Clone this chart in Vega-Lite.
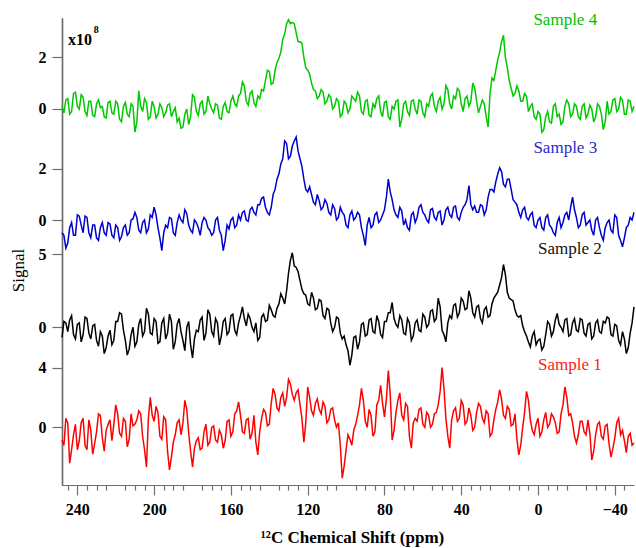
{
"$schema": "https://vega.github.io/schema/vega-lite/v6.json",
"width": 572, "height": 467,
"autosize": "none",
"padding": {"left": 62, "top": 18, "right": 2, "bottom": 63},
"background": "white",
"config": {"view": {"stroke": null},
  "axis": {"grid": false, "labelFont": "Liberation Serif", "labelFontWeight": "bold", "labelFontSize": 16, "labelColor": "#000", "domainColor": "#6e6e6e", "domainWidth": 1.2, "tickColor": "#6e6e6e", "tickWidth": 1.2, "titleFont": "Liberation Serif", "titleColor": "#000"}},
"datasets": {
"g": [{"x":248,"y":0.1},{"x":246,"y":0.35},{"x":244,"y":-0.2},{"x":242,"y":0.6},{"x":240,"y":0.1},{"x":238,"y":0.55},{"x":236,"y":-0.1},{"x":234,"y":0.3},{"x":232,"y":-0.25},{"x":230,"y":0.2},{"x":228,"y":0.05},{"x":226,"y":-0.3},{"x":224,"y":0.25},{"x":222,"y":-0.15},{"x":220,"y":0.3},{"x":218,"y":-0.4},{"x":216,"y":0.1},{"x":214,"y":-0.2},{"x":212,"y":0.2},{"x":210,"y":-0.9},{"x":208,"y":0.7},{"x":206,"y":-0.1},{"x":204,"y":0.25},{"x":202,"y":-0.3},{"x":200,"y":0.1},{"x":198,"y":-0.2},{"x":196,"y":0.05},{"x":194,"y":-0.15},{"x":192,"y":0.2},{"x":190,"y":-0.1},{"x":188,"y":-0.5},{"x":186,"y":-0.75},{"x":184,"y":-0.2},{"x":182,"y":-0.6},{"x":180,"y":0.55},{"x":178,"y":-0.1},{"x":176,"y":0.2},{"x":174,"y":-0.2},{"x":172,"y":0.5},{"x":170,"y":0.0},{"x":168,"y":0.2},{"x":166,"y":-0.35},{"x":164,"y":0.1},{"x":162,"y":-0.1},{"x":160,"y":0.3},{"x":158,"y":0.2},{"x":156,"y":0.5},{"x":154,"y":1.05},{"x":152,"y":0.3},{"x":150,"y":0.6},{"x":148,"y":0.25},{"x":146,"y":0.5},{"x":144,"y":0.75},{"x":142,"y":1.1},{"x":140,"y":1.45},{"x":138,"y":1.0},{"x":136,"y":1.8},{"x":134,"y":2.2},{"x":132,"y":2.9},{"x":130,"y":3.45},{"x":128,"y":3.35},{"x":126,"y":2.95},{"x":124,"y":2.6},{"x":122,"y":2.0},{"x":120,"y":1.5},{"x":118,"y":1.0},{"x":116,"y":0.7},{"x":114,"y":0.5},{"x":112,"y":0.65},{"x":110,"y":0.3},{"x":108,"y":0.45},{"x":106,"y":0.1},{"x":104,"y":0.3},{"x":102,"y":-0.2},{"x":100,"y":0.2},{"x":98,"y":0.0},{"x":96,"y":0.4},{"x":94,"y":0.65},{"x":92,"y":-0.1},{"x":90,"y":0.3},{"x":88,"y":-0.25},{"x":86,"y":0.2},{"x":84,"y":0.4},{"x":82,"y":-0.1},{"x":80,"y":0.25},{"x":78,"y":-0.3},{"x":76,"y":0.1},{"x":74,"y":0.3},{"x":72,"y":-0.7},{"x":70,"y":0.2},{"x":68,"y":-0.1},{"x":66,"y":0.3},{"x":64,"y":0.0},{"x":62,"y":0.35},{"x":60,"y":-0.15},{"x":58,"y":0.2},{"x":56,"y":0.5},{"x":54,"y":0.1},{"x":52,"y":0.3},{"x":50,"y":0.0},{"x":48,"y":0.9},{"x":46,"y":0.2},{"x":44,"y":0.5},{"x":42,"y":0.8},{"x":40,"y":0.2},{"x":38,"y":0.4},{"x":36,"y":0.1},{"x":34,"y":1.0},{"x":32,"y":0.3},{"x":30,"y":0.1},{"x":28,"y":0.2},{"x":26,"y":-0.7},{"x":24,"y":1.2},{"x":22,"y":1.5},{"x":20,"y":2.2},{"x":18,"y":2.85},{"x":16,"y":1.6},{"x":14,"y":0.8},{"x":12,"y":0.6},{"x":10,"y":0.7},{"x":8,"y":0.3},{"x":6,"y":0.5},{"x":4,"y":0.1},{"x":2,"y":-0.3},{"x":0,"y":-0.1},{"x":-2,"y":-0.9},{"x":-4,"y":-0.3},{"x":-6,"y":-0.5},{"x":-8,"y":0.1},{"x":-10,"y":-0.3},{"x":-12,"y":-0.6},{"x":-14,"y":0.1},{"x":-16,"y":0.2},{"x":-18,"y":-0.2},{"x":-20,"y":0.1},{"x":-22,"y":-0.4},{"x":-24,"y":0.2},{"x":-26,"y":-0.2},{"x":-28,"y":0.0},{"x":-30,"y":-0.3},{"x":-32,"y":0.1},{"x":-34,"y":-0.8},{"x":-36,"y":0.3},{"x":-38,"y":-0.1},{"x":-40,"y":0.4},{"x":-42,"y":0.0},{"x":-44,"y":0.35},{"x":-46,"y":-0.2},{"x":-48,"y":0.3},{"x":-50,"y":0.1},
{"x":247,"y":-0.15},{"x":245,"y":0.4},{"x":243,"y":-0.1},{"x":241,"y":0.65},{"x":239,"y":0.0},{"x":237,"y":0.45},{"x":235,"y":-0.25},{"x":233,"y":0.3},{"x":231,"y":-0.3},{"x":229,"y":0.35},{"x":227,"y":0.1},{"x":225,"y":-0.35},{"x":223,"y":0.3},{"x":221,"y":-0.2},{"x":219,"y":0.2},{"x":217,"y":-0.5},{"x":215,"y":0.25},{"x":213,"y":-0.3},{"x":211,"y":0.1},{"x":209,"y":-0.5},{"x":207,"y":0.1},{"x":205,"y":0.4},{"x":203,"y":-0.4},{"x":201,"y":0.3},{"x":199,"y":-0.35},{"x":197,"y":0.2},{"x":195,"y":-0.3},{"x":193,"y":0.15},{"x":191,"y":-0.3},{"x":189,"y":0.05},{"x":187,"y":-0.35},{"x":185,"y":-0.7},{"x":183,"y":0.0},{"x":181,"y":-0.3},{"x":179,"y":0.45},{"x":177,"y":-0.25},{"x":175,"y":0.3},{"x":173,"y":-0.1},{"x":171,"y":0.2},{"x":169,"y":-0.15},{"x":167,"y":0.15},{"x":165,"y":-0.4},{"x":163,"y":0.25},{"x":161,"y":-0.15},{"x":159,"y":0.5},{"x":157,"y":0.1},{"x":155,"y":0.6},{"x":153,"y":0.9},{"x":151,"y":0.15},{"x":149,"y":0.7},{"x":147,"y":0.1},{"x":145,"y":0.4},{"x":143,"y":0.7},{"x":141,"y":1.5},{"x":139,"y":0.95},{"x":137,"y":1.5},{"x":135,"y":1.95},{"x":133,"y":2.7},{"x":131,"y":3.3},{"x":129,"y":3.3},{"x":127,"y":3.3},{"x":125,"y":2.6},{"x":123,"y":2.55},{"x":121,"y":1.6},{"x":119,"y":1.35},{"x":117,"y":0.75},{"x":115,"y":0.4},{"x":113,"y":0.75},{"x":111,"y":0.2},{"x":109,"y":0.55},{"x":107,"y":0.0},{"x":105,"y":0.4},{"x":103,"y":-0.3},{"x":101,"y":0.3},{"x":99,"y":-0.15},{"x":97,"y":0.5},{"x":95,"y":0.3},{"x":93,"y":0.5},{"x":91,"y":-0.2},{"x":89,"y":0.35},{"x":87,"y":-0.3},{"x":85,"y":0.05},{"x":83,"y":0.5},{"x":81,"y":-0.3},{"x":79,"y":0.3},{"x":77,"y":-0.4},{"x":75,"y":0.0},{"x":73,"y":0.35},{"x":71,"y":-0.4},{"x":69,"y":0.3},{"x":67,"y":-0.25},{"x":65,"y":0.35},{"x":63,"y":-0.2},{"x":61,"y":0.3},{"x":59,"y":-0.3},{"x":57,"y":0.1},{"x":55,"y":0.6},{"x":53,"y":-0.1},{"x":51,"y":0.45},{"x":49,"y":0.2},{"x":47,"y":0.75},{"x":45,"y":0.0},{"x":43,"y":0.4},{"x":41,"y":0.7},{"x":39,"y":-0.1},{"x":37,"y":0.5},{"x":35,"y":0.3},{"x":33,"y":0.8},{"x":31,"y":-0.15},{"x":29,"y":0.35},{"x":27,"y":-0.3},{"x":25,"y":0.6},{"x":23,"y":1.1},{"x":21,"y":1.9},{"x":19,"y":2.6},{"x":17,"y":2.0},{"x":15,"y":1.1},{"x":13,"y":0.5},{"x":11,"y":0.9},{"x":9,"y":0.3},{"x":7,"y":0.6},{"x":5,"y":-0.1},{"x":3,"y":0.2},{"x":1,"y":-0.4},{"x":-1,"y":-0.2},{"x":-3,"y":-0.8},{"x":-5,"y":-0.1},{"x":-7,"y":-0.55},{"x":-9,"y":0.2},{"x":-11,"y":-0.2},{"x":-13,"y":-0.5},{"x":-15,"y":0.35},{"x":-17,"y":-0.3},{"x":-19,"y":0.2},{"x":-21,"y":-0.3},{"x":-23,"y":0.1},{"x":-25,"y":-0.35},{"x":-27,"y":0.15},{"x":-29,"y":-0.5},{"x":-31,"y":0.2},{"x":-33,"y":-0.2},{"x":-35,"y":-0.5},{"x":-37,"y":-0.2},{"x":-39,"y":0.35},{"x":-41,"y":-0.1},{"x":-43,"y":0.45},{"x":-45,"y":-0.2},{"x":-47,"y":0.35},{"x":-49,"y":-0.1}],
"b": [{"x":248,"y":-0.5},{"x":246,"y":-1.1},{"x":244,"y":-0.3},{"x":242,"y":-0.6},{"x":240,"y":0.2},{"x":238,"y":-0.2},{"x":236,"y":0.15},{"x":234,"y":-0.5},{"x":232,"y":-0.2},{"x":230,"y":-0.7},{"x":228,"y":-0.3},{"x":226,"y":-0.5},{"x":224,"y":-0.1},{"x":222,"y":-0.6},{"x":220,"y":-0.2},{"x":218,"y":-0.8},{"x":216,"y":-0.3},{"x":214,"y":-0.6},{"x":212,"y":0.0},{"x":210,"y":0.3},{"x":208,"y":-0.4},{"x":206,"y":-0.1},{"x":204,"y":-0.5},{"x":202,"y":0.2},{"x":200,"y":0.5},{"x":198,"y":-0.3},{"x":196,"y":-1.2},{"x":194,"y":-0.2},{"x":192,"y":0.1},{"x":190,"y":-0.5},{"x":188,"y":-0.1},{"x":186,"y":0.0},{"x":184,"y":0.4},{"x":182,"y":-0.2},{"x":180,"y":-0.5},{"x":178,"y":-0.1},{"x":176,"y":-0.6},{"x":174,"y":0.1},{"x":172,"y":-0.3},{"x":170,"y":-0.6},{"x":168,"y":0.0},{"x":166,"y":-0.4},{"x":164,"y":-1.2},{"x":162,"y":-0.2},{"x":160,"y":0.0},{"x":158,"y":-0.3},{"x":156,"y":0.2},{"x":154,"y":0.3},{"x":152,"y":0.0},{"x":150,"y":0.4},{"x":148,"y":0.3},{"x":146,"y":0.6},{"x":144,"y":0.85},{"x":142,"y":0.5},{"x":140,"y":0.2},{"x":138,"y":1.0},{"x":136,"y":1.6},{"x":134,"y":2.2},{"x":132,"y":3.1},{"x":130,"y":2.4},{"x":128,"y":2.9},{"x":126,"y":3.25},{"x":124,"y":2.4},{"x":122,"y":1.6},{"x":120,"y":1.1},{"x":118,"y":1.0},{"x":116,"y":0.6},{"x":114,"y":0.75},{"x":112,"y":0.5},{"x":110,"y":0.65},{"x":108,"y":0.2},{"x":106,"y":0.45},{"x":104,"y":0.1},{"x":102,"y":0.3},{"x":100,"y":-0.2},{"x":98,"y":0.2},{"x":96,"y":0.0},{"x":94,"y":0.3},{"x":92,"y":-0.3},{"x":90,"y":-1.0},{"x":88,"y":0.1},{"x":86,"y":-0.2},{"x":84,"y":0.3},{"x":82,"y":0.0},{"x":80,"y":0.4},{"x":78,"y":1.6},{"x":76,"y":0.8},{"x":74,"y":0.2},{"x":72,"y":0.5},{"x":70,"y":-0.2},{"x":68,"y":-0.3},{"x":66,"y":0.2},{"x":64,"y":-0.1},{"x":62,"y":0.5},{"x":60,"y":0.3},{"x":58,"y":0.0},{"x":56,"y":0.4},{"x":54,"y":0.1},{"x":52,"y":0.3},{"x":50,"y":-0.2},{"x":48,"y":0.4},{"x":46,"y":0.2},{"x":44,"y":0.5},{"x":42,"y":0.1},{"x":40,"y":0.3},{"x":38,"y":0.6},{"x":36,"y":1.35},{"x":34,"y":0.4},{"x":32,"y":0.3},{"x":30,"y":0.6},{"x":28,"y":0.2},{"x":26,"y":0.9},{"x":24,"y":1.2},{"x":22,"y":1.5},{"x":20,"y":2.05},{"x":18,"y":1.4},{"x":16,"y":1.6},{"x":14,"y":1.2},{"x":12,"y":0.7},{"x":10,"y":0.3},{"x":8,"y":0.4},{"x":6,"y":0.1},{"x":4,"y":0.2},{"x":2,"y":-0.2},{"x":0,"y":0.0},{"x":-2,"y":-0.3},{"x":-4,"y":0.1},{"x":-6,"y":-0.2},{"x":-8,"y":-0.5},{"x":-10,"y":-0.1},{"x":-12,"y":-0.3},{"x":-14,"y":0.2},{"x":-16,"y":0.0},{"x":-18,"y":0.9},{"x":-20,"y":0.1},{"x":-22,"y":-0.2},{"x":-24,"y":0.3},{"x":-26,"y":-0.1},{"x":-28,"y":-0.4},{"x":-30,"y":0.0},{"x":-32,"y":-0.3},{"x":-34,"y":-0.8},{"x":-36,"y":-0.1},{"x":-38,"y":-0.4},{"x":-40,"y":0.2},{"x":-42,"y":-0.6},{"x":-44,"y":-1.05},{"x":-46,"y":-0.3},{"x":-48,"y":0.1},{"x":-50,"y":0.3},
{"x":247,"y":-0.6},{"x":245,"y":-0.9},{"x":243,"y":-0.1},{"x":241,"y":-0.6},{"x":239,"y":0.15},{"x":237,"y":-0.5},{"x":235,"y":0.1},{"x":233,"y":-0.7},{"x":231,"y":-0.2},{"x":229,"y":-0.8},{"x":227,"y":-0.1},{"x":225,"y":-0.6},{"x":223,"y":-0.15},{"x":221,"y":-0.7},{"x":219,"y":-0.3},{"x":217,"y":-0.65},{"x":215,"y":-0.2},{"x":213,"y":-0.5},{"x":211,"y":0.05},{"x":209,"y":0.1},{"x":207,"y":-0.5},{"x":205,"y":0.0},{"x":203,"y":-0.35},{"x":201,"y":0.1},{"x":199,"y":0.2},{"x":197,"y":-0.7},{"x":195,"y":-0.5},{"x":193,"y":-0.3},{"x":191,"y":0.05},{"x":189,"y":-0.6},{"x":187,"y":0.2},{"x":185,"y":-0.1},{"x":183,"y":0.25},{"x":181,"y":-0.4},{"x":179,"y":0.0},{"x":177,"y":-0.3},{"x":175,"y":-0.1},{"x":173,"y":0.0},{"x":171,"y":-0.4},{"x":169,"y":-0.5},{"x":167,"y":0.1},{"x":165,"y":-0.6},{"x":163,"y":-0.8},{"x":161,"y":-0.35},{"x":159,"y":0.1},{"x":157,"y":-0.2},{"x":155,"y":0.0},{"x":153,"y":0.35},{"x":151,"y":-0.05},{"x":149,"y":0.5},{"x":147,"y":0.2},{"x":145,"y":0.6},{"x":143,"y":0.9},{"x":141,"y":0.3},{"x":139,"y":0.5},{"x":137,"y":1.2},{"x":135,"y":1.8},{"x":133,"y":2.4},{"x":131,"y":3.0},{"x":129,"y":2.5},{"x":127,"y":3.1},{"x":125,"y":2.7},{"x":123,"y":2.1},{"x":121,"y":1.2},{"x":119,"y":1.3},{"x":117,"y":0.7},{"x":115,"y":1.0},{"x":113,"y":0.4},{"x":111,"y":0.8},{"x":109,"y":0.3},{"x":107,"y":0.6},{"x":105,"y":0.0},{"x":103,"y":0.5},{"x":101,"y":0.2},{"x":99,"y":-0.3},{"x":97,"y":0.35},{"x":95,"y":0.1},{"x":93,"y":0.2},{"x":91,"y":-0.6},{"x":89,"y":-0.2},{"x":87,"y":-0.3},{"x":85,"y":0.2},{"x":83,"y":-0.1},{"x":81,"y":0.2},{"x":79,"y":0.9},{"x":77,"y":1.1},{"x":75,"y":0.4},{"x":73,"y":0.1},{"x":71,"y":0.35},{"x":69,"y":0.0},{"x":67,"y":-0.4},{"x":65,"y":0.3},{"x":63,"y":0.1},{"x":61,"y":0.6},{"x":59,"y":0.2},{"x":57,"y":-0.1},{"x":55,"y":0.45},{"x":53,"y":0.0},{"x":51,"y":0.35},{"x":49,"y":0.0},{"x":47,"y":0.5},{"x":45,"y":0.1},{"x":43,"y":0.55},{"x":41,"y":0.0},{"x":39,"y":0.5},{"x":37,"y":0.8},{"x":35,"y":0.6},{"x":33,"y":0.55},{"x":31,"y":0.3},{"x":29,"y":0.55},{"x":27,"y":0.4},{"x":25,"y":1.2},{"x":23,"y":1.1},{"x":21,"y":1.8},{"x":19,"y":1.9},{"x":17,"y":1.3},{"x":15,"y":1.6},{"x":13,"y":0.8},{"x":11,"y":0.6},{"x":9,"y":0.1},{"x":7,"y":0.5},{"x":5,"y":0.0},{"x":3,"y":0.3},{"x":1,"y":-0.3},{"x":-1,"y":0.1},{"x":-3,"y":-0.4},{"x":-5,"y":0.2},{"x":-7,"y":-0.3},{"x":-9,"y":-0.6},{"x":-11,"y":0.1},{"x":-13,"y":-0.1},{"x":-15,"y":0.3},{"x":-17,"y":0.5},{"x":-19,"y":0.4},{"x":-21,"y":-0.3},{"x":-23,"y":0.2},{"x":-25,"y":-0.2},{"x":-27,"y":0.0},{"x":-29,"y":-0.6},{"x":-31,"y":0.1},{"x":-33,"y":-0.6},{"x":-35,"y":-0.3},{"x":-37,"y":0.0},{"x":-39,"y":-0.5},{"x":-41,"y":0.1},{"x":-43,"y":-0.8},{"x":-45,"y":-0.7},{"x":-47,"y":-0.2},{"x":-49,"y":0.0}],
"k": [{"x":248,"y":-0.7},{"x":246,"y":0.3},{"x":244,"y":0.5},{"x":242,"y":-0.5},{"x":240,"y":0.2},{"x":238,"y":-1.0},{"x":236,"y":0.7},{"x":234,"y":-0.4},{"x":232,"y":0.1},{"x":230,"y":-0.9},{"x":228,"y":-0.3},{"x":226,"y":-1.8},{"x":224,"y":-0.6},{"x":222,"y":-1.2},{"x":220,"y":0.4},{"x":218,"y":1.0},{"x":216,"y":-0.2},{"x":214,"y":-1.9},{"x":212,"y":-0.5},{"x":210,"y":-1.3},{"x":208,"y":0.2},{"x":206,"y":-0.6},{"x":204,"y":1.3},{"x":202,"y":-0.4},{"x":200,"y":0.6},{"x":198,"y":-1.1},{"x":196,"y":0.3},{"x":194,"y":-0.8},{"x":192,"y":0.9},{"x":190,"y":-1.5},{"x":188,"y":0.2},{"x":186,"y":-0.3},{"x":184,"y":-1.6},{"x":182,"y":0.4},{"x":180,"y":-2.1},{"x":178,"y":-0.2},{"x":176,"y":0.5},{"x":174,"y":-0.9},{"x":172,"y":1.2},{"x":170,"y":-0.3},{"x":168,"y":0.6},{"x":166,"y":-1.2},{"x":164,"y":0.4},{"x":162,"y":-0.5},{"x":160,"y":0.8},{"x":158,"y":-0.2},{"x":156,"y":0.3},{"x":154,"y":1.4},{"x":152,"y":0.1},{"x":150,"y":0.6},{"x":148,"y":-0.3},{"x":146,"y":-0.9},{"x":144,"y":0.7},{"x":142,"y":0.4},{"x":140,"y":1.5},{"x":138,"y":0.8},{"x":136,"y":1.3},{"x":134,"y":2.3},{"x":132,"y":1.6},{"x":130,"y":3.7},{"x":128,"y":5.1},{"x":126,"y":4.1},{"x":124,"y":3.2},{"x":122,"y":2.3},{"x":120,"y":1.6},{"x":118,"y":2.4},{"x":116,"y":1.2},{"x":114,"y":1.9},{"x":112,"y":0.8},{"x":110,"y":1.3},{"x":108,"y":0.3},{"x":106,"y":0.0},{"x":104,"y":0.6},{"x":102,"y":-0.8},{"x":100,"y":-1.2},{"x":98,"y":-2.6},{"x":96,"y":-0.7},{"x":94,"y":-1.5},{"x":92,"y":0.2},{"x":90,"y":-0.6},{"x":88,"y":0.5},{"x":86,"y":-0.3},{"x":84,"y":0.8},{"x":82,"y":-0.5},{"x":80,"y":0.4},{"x":78,"y":1.0},{"x":76,"y":1.7},{"x":74,"y":0.2},{"x":72,"y":0.8},{"x":70,"y":-0.4},{"x":68,"y":0.6},{"x":66,"y":-0.9},{"x":64,"y":0.3},{"x":62,"y":-0.2},{"x":60,"y":0.9},{"x":58,"y":0.0},{"x":56,"y":1.1},{"x":54,"y":0.4},{"x":52,"y":2.0},{"x":50,"y":-0.2},{"x":48,"y":-1.0},{"x":46,"y":0.8},{"x":44,"y":1.5},{"x":42,"y":0.7},{"x":40,"y":2.0},{"x":38,"y":1.2},{"x":36,"y":2.5},{"x":34,"y":1.0},{"x":32,"y":1.4},{"x":30,"y":0.6},{"x":28,"y":1.2},{"x":26,"y":0.7},{"x":24,"y":1.6},{"x":22,"y":2.2},{"x":20,"y":2.9},{"x":18,"y":4.3},{"x":16,"y":2.4},{"x":14,"y":1.9},{"x":12,"y":1.2},{"x":10,"y":0.7},{"x":8,"y":0.1},{"x":6,"y":-0.6},{"x":4,"y":-1.35},{"x":2,"y":-0.3},{"x":0,"y":-0.9},{"x":-2,"y":-1.55},{"x":-4,"y":-0.5},{"x":-6,"y":0.2},{"x":-8,"y":-0.3},{"x":-10,"y":0.95},{"x":-12,"y":0.0},{"x":-14,"y":0.5},{"x":-16,"y":-0.6},{"x":-18,"y":0.3},{"x":-20,"y":-0.2},{"x":-22,"y":0.6},{"x":-24,"y":-0.4},{"x":-26,"y":0.2},{"x":-28,"y":-0.8},{"x":-30,"y":0.3},{"x":-32,"y":-0.3},{"x":-34,"y":0.4},{"x":-36,"y":0.7},{"x":-38,"y":-0.5},{"x":-40,"y":0.2},{"x":-42,"y":-0.9},{"x":-44,"y":-0.3},{"x":-46,"y":-1.8},{"x":-48,"y":-0.4},{"x":-50,"y":1.4},
{"x":247,"y":0.4},{"x":245,"y":-0.3},{"x":243,"y":0.8},{"x":241,"y":-0.8},{"x":239,"y":0.3},{"x":237,"y":-0.5},{"x":235,"y":0.6},{"x":233,"y":-0.8},{"x":231,"y":0.2},{"x":229,"y":-1.3},{"x":227,"y":-0.6},{"x":225,"y":-1.4},{"x":223,"y":-0.2},{"x":221,"y":-0.9},{"x":219,"y":0.4},{"x":217,"y":0.9},{"x":215,"y":-0.9},{"x":213,"y":-1.5},{"x":211,"y":0.0},{"x":209,"y":-1.0},{"x":207,"y":0.6},{"x":205,"y":-0.3},{"x":203,"y":0.9},{"x":201,"y":-0.5},{"x":199,"y":0.4},{"x":197,"y":-1.0},{"x":195,"y":0.6},{"x":193,"y":-0.4},{"x":191,"y":0.4},{"x":189,"y":-1.0},{"x":187,"y":0.6},{"x":185,"y":-0.9},{"x":183,"y":0.0},{"x":181,"y":-1.2},{"x":179,"y":-0.8},{"x":177,"y":-0.3},{"x":175,"y":0.7},{"x":173,"y":-0.4},{"x":171,"y":0.9},{"x":169,"y":-0.6},{"x":167,"y":0.3},{"x":165,"y":-0.6},{"x":163,"y":0.6},{"x":161,"y":-0.3},{"x":159,"y":0.9},{"x":157,"y":-0.5},{"x":155,"y":0.8},{"x":153,"y":0.6},{"x":151,"y":0.9},{"x":149,"y":0.0},{"x":147,"y":0.3},{"x":145,"y":-0.7},{"x":143,"y":0.9},{"x":141,"y":0.5},{"x":139,"y":1.2},{"x":137,"y":0.7},{"x":135,"y":1.6},{"x":133,"y":2.0},{"x":131,"y":2.5},{"x":129,"y":4.6},{"x":127,"y":4.2},{"x":125,"y":3.8},{"x":123,"y":2.6},{"x":121,"y":2.2},{"x":119,"y":1.5},{"x":117,"y":2.0},{"x":115,"y":1.3},{"x":113,"y":1.8},{"x":111,"y":0.6},{"x":109,"y":1.2},{"x":107,"y":-0.3},{"x":105,"y":0.7},{"x":103,"y":-0.4},{"x":101,"y":-0.6},{"x":99,"y":-1.6},{"x":97,"y":-1.9},{"x":95,"y":-0.6},{"x":93,"y":-1.0},{"x":91,"y":0.3},{"x":89,"y":-0.5},{"x":87,"y":0.6},{"x":85,"y":-0.4},{"x":83,"y":0.4},{"x":81,"y":-0.7},{"x":79,"y":0.4},{"x":77,"y":1.0},{"x":75,"y":0.6},{"x":73,"y":0.0},{"x":71,"y":0.5},{"x":69,"y":-0.5},{"x":67,"y":0.3},{"x":65,"y":-0.6},{"x":63,"y":0.5},{"x":61,"y":-0.3},{"x":59,"y":0.7},{"x":57,"y":0.2},{"x":55,"y":1.2},{"x":53,"y":0.6},{"x":51,"y":1.4},{"x":49,"y":-0.5},{"x":47,"y":0.3},{"x":45,"y":0.6},{"x":43,"y":1.6},{"x":41,"y":1.0},{"x":39,"y":1.8},{"x":37,"y":1.3},{"x":35,"y":2.0},{"x":33,"y":0.7},{"x":31,"y":1.5},{"x":29,"y":0.3},{"x":27,"y":1.4},{"x":25,"y":0.8},{"x":23,"y":2.0},{"x":21,"y":2.4},{"x":19,"y":3.4},{"x":17,"y":3.6},{"x":15,"y":2.0},{"x":13,"y":1.8},{"x":11,"y":0.8},{"x":9,"y":0.8},{"x":7,"y":-0.3},{"x":5,"y":-1.0},{"x":3,"y":-0.6},{"x":1,"y":-1.2},{"x":-1,"y":-0.8},{"x":-3,"y":-1.3},{"x":-5,"y":0.4},{"x":-7,"y":-0.6},{"x":-9,"y":0.5},{"x":-11,"y":0.2},{"x":-13,"y":-0.3},{"x":-15,"y":0.6},{"x":-17,"y":-0.5},{"x":-19,"y":0.6},{"x":-21,"y":-0.3},{"x":-23,"y":0.5},{"x":-25,"y":-0.6},{"x":-27,"y":0.3},{"x":-29,"y":-0.6},{"x":-31,"y":0.5},{"x":-33,"y":-0.4},{"x":-35,"y":0.3},{"x":-37,"y":0.6},{"x":-39,"y":-0.6},{"x":-41,"y":0.1},{"x":-43,"y":-1.2},{"x":-45,"y":-0.8},{"x":-47,"y":-1.4},{"x":-49,"y":0.3}],
"r": [{"x":248,"y":-0.85},{"x":246,"y":0.6},{"x":244,"y":-2.4},{"x":242,"y":-0.5},{"x":240,"y":-1.5},{"x":238,"y":0.3},{"x":236,"y":-1.2},{"x":234,"y":0.5},{"x":232,"y":-1.8},{"x":230,"y":-0.3},{"x":228,"y":0.8},{"x":226,"y":-1.6},{"x":224,"y":0.2},{"x":222,"y":-0.9},{"x":220,"y":1.5},{"x":218,"y":-0.4},{"x":216,"y":0.6},{"x":214,"y":-1.3},{"x":212,"y":0.9},{"x":210,"y":0.2},{"x":208,"y":1.1},{"x":206,"y":-0.6},{"x":204,"y":-2.65},{"x":202,"y":2.0},{"x":200,"y":0.4},{"x":198,"y":1.0},{"x":196,"y":-0.8},{"x":194,"y":0.5},{"x":192,"y":-2.85},{"x":190,"y":-1.0},{"x":188,"y":0.3},{"x":186,"y":-0.5},{"x":184,"y":1.8},{"x":182,"y":-0.4},{"x":180,"y":-2.65},{"x":178,"y":-0.9},{"x":176,"y":-1.5},{"x":174,"y":-0.3},{"x":172,"y":-1.2},{"x":170,"y":0.0},{"x":168,"y":-0.85},{"x":166,"y":-0.2},{"x":164,"y":-1.4},{"x":162,"y":0.4},{"x":160,"y":-0.6},{"x":158,"y":0.9},{"x":156,"y":1.7},{"x":154,"y":-0.3},{"x":152,"y":0.5},{"x":150,"y":-0.8},{"x":148,"y":0.8},{"x":146,"y":-1.85},{"x":144,"y":0.6},{"x":142,"y":1.0},{"x":140,"y":0.2},{"x":138,"y":2.6},{"x":136,"y":1.3},{"x":134,"y":2.0},{"x":132,"y":1.4},{"x":130,"y":3.2},{"x":128,"y":2.2},{"x":126,"y":2.3},{"x":124,"y":1.5},{"x":122,"y":-1.0},{"x":120,"y":2.7},{"x":118,"y":1.1},{"x":116,"y":1.6},{"x":114,"y":1.2},{"x":112,"y":1.7},{"x":110,"y":0.3},{"x":108,"y":1.2},{"x":106,"y":0.5},{"x":104,"y":0.3},{"x":102,"y":-3.4},{"x":100,"y":-1.5},{"x":98,"y":-0.8},{"x":96,"y":-0.2},{"x":94,"y":0.8},{"x":92,"y":2.6},{"x":90,"y":0.4},{"x":88,"y":1.2},{"x":86,"y":-0.6},{"x":84,"y":1.5},{"x":82,"y":2.8},{"x":80,"y":0.7},{"x":78,"y":3.8},{"x":76,"y":-0.85},{"x":74,"y":1.0},{"x":72,"y":2.3},{"x":70,"y":0.5},{"x":68,"y":1.4},{"x":66,"y":-1.4},{"x":64,"y":0.6},{"x":62,"y":1.2},{"x":60,"y":0.2},{"x":58,"y":1.0},{"x":56,"y":0.0},{"x":54,"y":0.9},{"x":52,"y":1.5},{"x":50,"y":4.0},{"x":48,"y":0.6},{"x":46,"y":-1.4},{"x":44,"y":1.1},{"x":42,"y":0.4},{"x":40,"y":1.8},{"x":38,"y":0.2},{"x":36,"y":1.3},{"x":34,"y":-0.2},{"x":32,"y":1.0},{"x":30,"y":1.4},{"x":28,"y":0.3},{"x":26,"y":0.9},{"x":24,"y":-0.4},{"x":22,"y":1.2},{"x":20,"y":2.5},{"x":18,"y":0.8},{"x":16,"y":1.4},{"x":14,"y":0.1},{"x":12,"y":0.9},{"x":10,"y":-1.85},{"x":8,"y":0.0},{"x":6,"y":2.4},{"x":4,"y":0.5},{"x":2,"y":-0.5},{"x":0,"y":0.6},{"x":-2,"y":-0.3},{"x":-4,"y":1.0},{"x":-6,"y":0.2},{"x":-8,"y":0.7},{"x":-10,"y":-0.4},{"x":-12,"y":0.9},{"x":-14,"y":2.7},{"x":-16,"y":0.8},{"x":-18,"y":0.3},{"x":-20,"y":-1.05},{"x":-22,"y":0.4},{"x":-24,"y":-0.3},{"x":-26,"y":0.5},{"x":-28,"y":-2.2},{"x":-30,"y":-0.5},{"x":-32,"y":0.35},{"x":-34,"y":-0.8},{"x":-36,"y":0.2},{"x":-38,"y":-2.0},{"x":-40,"y":-0.7},{"x":-42,"y":0.6},{"x":-44,"y":-0.2},{"x":-46,"y":-1.7},{"x":-48,"y":-0.4},{"x":-50,"y":-1.05},
{"x":247,"y":-1.2},{"x":245,"y":0.3},{"x":243,"y":-1.5},{"x":241,"y":0.2},{"x":239,"y":-0.9},{"x":237,"y":0.6},{"x":235,"y":-1.5},{"x":233,"y":-0.2},{"x":231,"y":-1.1},{"x":229,"y":0.9},{"x":227,"y":-0.7},{"x":225,"y":-0.2},{"x":223,"y":0.5},{"x":221,"y":0.2},{"x":219,"y":0.9},{"x":217,"y":-0.6},{"x":215,"y":0.4},{"x":213,"y":-0.8},{"x":211,"y":0.1},{"x":209,"y":0.5},{"x":207,"y":0.9},{"x":205,"y":-1.5},{"x":203,"y":0.6},{"x":201,"y":0.8},{"x":199,"y":1.4},{"x":197,"y":-0.6},{"x":195,"y":0.7},{"x":193,"y":-1.6},{"x":191,"y":-2.0},{"x":189,"y":-0.5},{"x":187,"y":0.5},{"x":185,"y":0.3},{"x":183,"y":1.2},{"x":181,"y":-1.6},{"x":179,"y":-1.4},{"x":177,"y":-0.7},{"x":175,"y":-1.4},{"x":173,"y":0.2},{"x":171,"y":-1.0},{"x":169,"y":0.1},{"x":167,"y":-1.0},{"x":165,"y":-0.5},{"x":163,"y":-0.9},{"x":161,"y":0.5},{"x":159,"y":-0.3},{"x":157,"y":1.1},{"x":155,"y":0.8},{"x":153,"y":-0.4},{"x":151,"y":0.6},{"x":149,"y":-0.4},{"x":147,"y":-1.0},{"x":145,"y":-0.3},{"x":143,"y":1.2},{"x":141,"y":0.1},{"x":139,"y":1.6},{"x":137,"y":2.2},{"x":135,"y":1.1},{"x":133,"y":2.3},{"x":131,"y":2.0},{"x":129,"y":2.9},{"x":127,"y":1.8},{"x":125,"y":2.5},{"x":123,"y":0.6},{"x":121,"y":0.3},{"x":119,"y":2.0},{"x":117,"y":0.8},{"x":115,"y":1.9},{"x":113,"y":0.9},{"x":111,"y":1.4},{"x":109,"y":0.5},{"x":107,"y":1.3},{"x":105,"y":0.0},{"x":103,"y":-1.2},{"x":101,"y":-2.6},{"x":99,"y":-0.5},{"x":97,"y":-1.2},{"x":95,"y":0.2},{"x":93,"y":1.5},{"x":91,"y":1.8},{"x":89,"y":0.0},{"x":87,"y":0.8},{"x":85,"y":-0.3},{"x":83,"y":1.8},{"x":81,"y":1.6},{"x":79,"y":1.9},{"x":77,"y":2.2},{"x":75,"y":-0.2},{"x":73,"y":1.8},{"x":71,"y":0.8},{"x":69,"y":1.6},{"x":67,"y":-0.6},{"x":65,"y":0.3},{"x":63,"y":0.4},{"x":61,"y":1.3},{"x":59,"y":0.0},{"x":57,"y":0.8},{"x":55,"y":0.2},{"x":53,"y":1.0},{"x":51,"y":2.4},{"x":49,"y":2.6},{"x":47,"y":-0.6},{"x":45,"y":0.5},{"x":43,"y":1.3},{"x":41,"y":0.6},{"x":39,"y":1.5},{"x":37,"y":0.4},{"x":35,"y":0.8},{"x":33,"y":0.0},{"x":31,"y":1.6},{"x":29,"y":0.6},{"x":27,"y":1.1},{"x":25,"y":-0.6},{"x":23,"y":0.5},{"x":21,"y":1.7},{"x":19,"y":1.9},{"x":17,"y":0.6},{"x":15,"y":1.2},{"x":13,"y":0.2},{"x":11,"y":-0.8},{"x":9,"y":-1.2},{"x":7,"y":1.0},{"x":5,"y":1.8},{"x":3,"y":-0.2},{"x":1,"y":0.2},{"x":-1,"y":-0.6},{"x":-3,"y":0.5},{"x":-5,"y":0.0},{"x":-7,"y":0.9},{"x":-9,"y":0.3},{"x":-11,"y":-0.3},{"x":-13,"y":1.5},{"x":-15,"y":2.0},{"x":-17,"y":0.9},{"x":-19,"y":-0.6},{"x":-21,"y":-0.5},{"x":-23,"y":0.4},{"x":-25,"y":-0.5},{"x":-27,"y":-0.4},{"x":-29,"y":-1.6},{"x":-31,"y":0.2},{"x":-33,"y":-0.6},{"x":-35,"y":0.1},{"x":-37,"y":-1.1},{"x":-39,"y":-1.4},{"x":-41,"y":0.3},{"x":-43,"y":-0.5},{"x":-45,"y":-0.9},{"x":-47,"y":-0.6},{"x":-49,"y":-1.2}]
},
"layer": [
   {"data": {"name": "g"}, "mark": {"type": "line", "color": "#00c800", "strokeWidth": 1.5},
    "encoding": {
      "x": {"field": "x", "type": "quantitative", "scale": {"domain": [-50, 248], "reverse": true, "nice": false, "zero": false},
            "axis": {"orient": "bottom", "values": [240, 200, 160, 120, 80, 40, 0, -40], "tickSize": 10, "labelPadding": 6, "labelFontSize": 16, "title": "¹²C Chemical Shift (ppm)", "titleFontSize": 17, "titleFontWeight": "bold", "titleX": 290, "titleY": 57, "titleBaseline": "alphabetic"}},
      "y": {"field": "y", "type": "quantitative", "scale": {"domain": [-14.55, 3.52], "nice": false, "zero": false},
            "axis": {"orient": "left", "values": [0, 2], "tickSize": 10, "labelPadding": 6, "title": null}}}},
   {"data": {"name": "b"}, "mark": {"type": "line", "color": "#0000cc", "strokeWidth": 1.5},
    "encoding": {
      "x": {"field": "x", "type": "quantitative",
            "axis": {"orient": "bottom", "values": [245,235,230,225,215,210,205,195,190,185,175,170,165,155,150,145,135,130,125,115,110,105,95,90,85,75,70,65,55,50,45,35,30,25,15,10,5,-5,-10,-15,-25,-30,-35,-45], "tickSize": 5, "labels": false, "domain": false, "title": null}},
      "y": {"field": "y", "type": "quantitative", "scale": {"domain": [-10.39, 7.92], "nice": false, "zero": false},
            "axis": {"orient": "left", "values": [0, 2], "tickSize": 10, "labelPadding": 6, "title": null}}}},
   {"data": {"name": "k"}, "mark": {"type": "line", "color": "#000000", "strokeWidth": 1.5},
    "encoding": {
      "x": {"field": "x", "type": "quantitative", "axis": null},
      "y": {"field": "y", "type": "quantitative", "scale": {"domain": [-10.80, 21.18], "nice": false, "zero": false},
            "axis": {"orient": "left", "values": [0, 5], "tickSize": 10, "labelPadding": 6, "title": "Signal", "titleFontSize": 17, "titleFontWeight": "normal", "titleX": -44, "titleY": 252, "titleAngle": -90, "titleBaseline": "middle", "titleAlign": "center"}}}},
   {"data": {"name": "r"}, "mark": {"type": "line", "color": "#ff0000", "strokeWidth": 1.5},
    "encoding": {
      "x": {"field": "x", "type": "quantitative", "axis": null},
      "y": {"field": "y", "type": "quantitative", "scale": {"domain": [-3.86, 27.38], "nice": false, "zero": false},
            "axis": {"orient": "left", "values": [0, 4], "tickSize": 10, "labelPadding": 6, "title": null}}}},
   {"data": {"values": [{"x": -14.2, "y": 3.45, "t": "Sample 4"}]},
    "mark": {"type": "text", "color": "#00c000", "font": "Liberation Serif", "fontSize": 17, "align": "center", "baseline": "middle"},
    "encoding": {"x": {"field": "x", "type": "quantitative", "axis": null},
                 "y": {"field": "y", "type": "quantitative", "scale": {"domain": [-14.55, 3.52], "nice": false, "zero": false}, "axis": null},
                 "text": {"field": "t"}}},
   {"data": {"values": [{"x": 244.9, "y": 2.48, "t": "x10"}]},
    "mark": {"type": "text", "color": "#000", "font": "Liberation Serif", "fontWeight": "bold", "fontSize": 16, "align": "left", "baseline": "alphabetic"},
    "encoding": {"x": {"field": "x", "type": "quantitative", "axis": null},
                 "y": {"field": "y", "type": "quantitative", "scale": {"domain": [-14.55, 3.52], "nice": false, "zero": false}, "axis": null},
                 "text": {"field": "t"}}},
   {"data": {"values": [{"x": 231.5, "y": 2.94, "t": "8"}]},
    "mark": {"type": "text", "color": "#000", "font": "Liberation Serif", "fontWeight": "bold", "fontSize": 10, "align": "left", "baseline": "alphabetic"},
    "encoding": {"x": {"field": "x", "type": "quantitative", "axis": null},
                 "y": {"field": "y", "type": "quantitative", "scale": {"domain": [-14.55, 3.52], "nice": false, "zero": false}, "axis": null},
                 "text": {"field": "t"}}},
   {"data": {"values": [{"x": -14.2, "y": 2.82, "t": "Sample 3"}]},
    "mark": {"type": "text", "color": "#2a2acc", "font": "Liberation Serif", "fontSize": 17, "align": "center", "baseline": "middle"},
    "encoding": {"x": {"field": "x", "type": "quantitative", "axis": null},
                 "y": {"field": "y", "type": "quantitative", "scale": {"domain": [-10.39, 7.92], "nice": false, "zero": false}, "axis": null},
                 "text": {"field": "t"}}},
   {"data": {"values": [{"x": -16.6, "y": 5.36, "t": "Sample 2"}]},
    "mark": {"type": "text", "color": "#111", "font": "Liberation Serif", "fontSize": 17, "align": "center", "baseline": "middle"},
    "encoding": {"x": {"field": "x", "type": "quantitative", "axis": null},
                 "y": {"field": "y", "type": "quantitative", "scale": {"domain": [-10.80, 21.18], "nice": false, "zero": false}, "axis": null},
                 "text": {"field": "t"}}},
   {"data": {"values": [{"x": -16.6, "y": 4.17, "t": "Sample 1"}]},
    "mark": {"type": "text", "color": "#ff2020", "font": "Liberation Serif", "fontSize": 17, "align": "center", "baseline": "middle"},
    "encoding": {"x": {"field": "x", "type": "quantitative", "axis": null},
                 "y": {"field": "y", "type": "quantitative", "scale": {"domain": [-3.86, 27.38], "nice": false, "zero": false}, "axis": null},
                 "text": {"field": "t"}}}
],
"resolve": {"scale": {"y": "independent"}, "axis": {"y": "independent", "x": "independent"}}
}
